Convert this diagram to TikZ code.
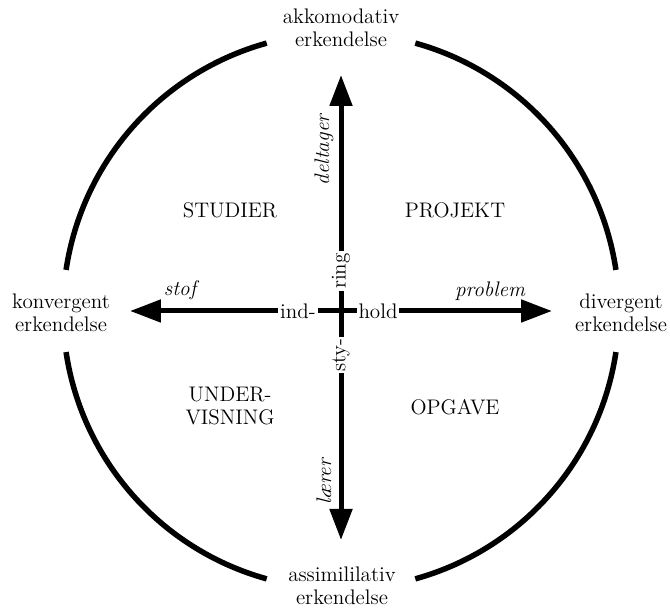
\documentclass[tikz,border=0pt]{standalone}
\usepackage{fontspec}
\usetikzlibrary{arrows.meta, positioning}

\begin{document}
\begin{tikzpicture}[x=0.02cm, y=0.02cm,
  lbl/.style={font=\fontsize{12}{13}\selectfont, align=center, inner sep=1pt},
  axis/.style={lbl, fill=white, inner sep=1pt},
  dir/.style={font=\fontsize{12}{13}\selectfont\itshape, inner sep=1pt},
  ring/.style={line width=0.11cm},
  pil/.style={line width=0.1cm, -{Triangle[length=0.62cm, width=0.44cm]}}]
\useasboundingbox (0,0) rectangle (670,608);

% centre and arrow tips
\coordinate (c) at (341,297);
\coordinate (optip) at (341,533);
\coordinate (nedtip) at (341,68);
\coordinate (vtip) at (130,297);
\coordinate (htip) at (552,297);

% circle in four arcs
\draw [ring] (c) ++(8.5:278) arc (8.5:74.5:278);
\draw [ring] (c) ++(105.5:278) arc (105.5:171.5:278);
\draw [ring] (c) ++(188.5:278) arc (188.5:254.5:278);
\draw [ring] (c) ++(285.5:278) arc (285.5:351.5:278);

% arrows
\draw [pil] (c) -- (optip);
\draw [pil] (c) -- (nedtip);
\draw [pil] (c) -- (vtip);
\draw [pil] (c) -- (htip);

% words on the cross
\node [axis] (ind) at (298,297) {ind-};
\node [axis] (hold) at (378,297) {hold};
\node [axis, rotate=90] (ring) at (341,337) {ring};
\node [axis, rotate=90] (sty) at (341,253) {sty-};

% arrow labels
\node [dir, rotate=90] (deltager) at (324,458) {deltager};
\node [dir, rotate=90] (laerer) at (324,126) {lærer};
\node [dir] (stof) at (180,318) {stof};
\node [dir] (problem) at (490,317) {problem};

% poles
\node [lbl] (akk) at (341,580) {akkomodativ\\erkendelse};
\node [lbl] (konv) at (61,295) {konvergent\\erkendelse};
\node [lbl] (div) at (621,295) {divergent\\erkendelse};
\node [lbl] (assim) at (342,22) {assimililativ\\erkendelse};

% quadrants
\node [lbl] (studier) at (230,398) {STUDIER};
\node [lbl] (projekt) at (455,398) {PROJEKT};
\node [lbl] (under) at (230,202) {UNDER-\\VISNING};
\node [lbl] (opgave) at (455,201) {OPGAVE};
\end{tikzpicture}
\end{document}
